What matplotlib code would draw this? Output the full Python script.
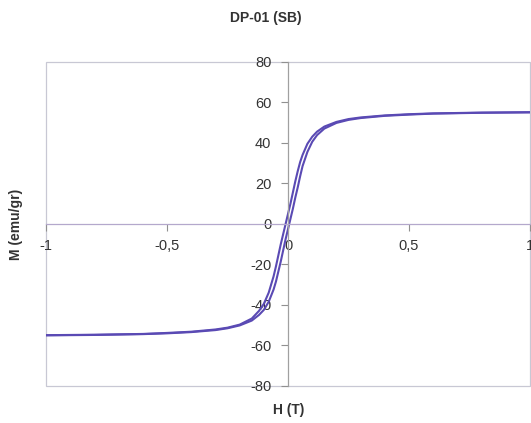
import matplotlib.pyplot as plt
from matplotlib.patches import Rectangle

# Boucle d'hystérésis DP-01 (SB)
H = [-1.0, -0.8, -0.6, -0.5, -0.4, -0.3, -0.25, -0.2, -0.15, -0.12, -0.1, -0.08,
     -0.06, -0.05, -0.04, -0.03, -0.02, -0.01, 0.0, 0.01, 0.02, 0.03, 0.04, 0.05,
     0.06, 0.08, 0.1, 0.12, 0.15, 0.2, 0.25, 0.3, 0.4, 0.5, 0.6, 0.8, 1.0]

# branche descendante (champ de +1 vers -1)
M_down = [-55.0, -54.8, -54.4, -53.9, -53.3, -52.2, -51.3, -49.8, -46.8, -43.0, -39.5, -34.0,
          -26.0, -21.0, -15.5, -10.0, -5.0, 0.0, 5.0, 10.0, 15.5, 21.0, 26.0, 30.5,
          34.0, 39.5, 43.0, 45.5, 48.0, 50.3, 51.7, 52.5, 53.5, 54.1, 54.5, 54.9, 55.1]

# branche montante (champ de -1 vers +1)
M_up = [-55.1, -54.9, -54.5, -54.1, -53.5, -52.5, -51.6, -50.2, -47.8, -45.0, -42.5, -38.5,
        -32.5, -28.5, -23.5, -18.5, -13.0, -7.5, -2.5, 2.5, 7.5, 13.0, 18.0, 23.5,
        28.5, 35.5, 40.5, 43.8, 47.0, 49.8, 51.3, 52.2, 53.3, 53.9, 54.4, 54.8, 55.0]

x_ticks = [-1, -0.5, 0, 0.5, 1]
x_labels = ['-1', '-0,5', '0', '0,5', '1']
y_ticks = [-80, -60, -40, -20, 0, 20, 40, 60, 80]

plt.rcParams['font.family'] = ['Liberation Sans', 'DejaVu Sans']
plt.rcParams['axes.unicode_minus'] = False

fig = plt.figure(figsize=(5.31, 4.23), dpi=100)
ax = fig.add_axes([0.087, 0.088, 0.911, 0.766])

col = '#5a4ab4'
ax.plot(H[::-1], M_down[::-1], color=col, lw=1.5)
ax.plot(H, M_up, color=col, lw=1.5)

ax.set_xlim(-1, 1)
ax.set_ylim(-80, 80)

# axes croisés en zéro
for s in ['top', 'right']:
    ax.spines[s].set_visible(False)
ax.spines['left'].set_position('zero')
ax.spines['bottom'].set_position('zero')
ax.spines['left'].set_color('#a0a0a0')
ax.spines['bottom'].set_color('#b4a8cc')
ax.spines['left'].set_linewidth(0.9)
ax.spines['bottom'].set_linewidth(0.9)

ax.add_patch(Rectangle((0, 0), 1, 1, transform=ax.transAxes, fill=False,
                       edgecolor='#c8c8d4', lw=0.9, clip_on=False))

ax.set_xticks(x_ticks)
ax.set_xticklabels(x_labels)
ax.set_yticks(y_ticks)
ax.tick_params(axis='both', direction='out', length=5, color='#909090',
               labelsize=10.5, labelcolor='#333333')
ax.tick_params(axis='x', pad=6)
ax.tick_params(axis='y', pad=7)

fig.suptitle('DP-01 (SB)', y=0.975, fontsize=10, fontweight='bold', color='#333333')
fig.text(0.03, 0.47, 'M (emu/gr)', rotation=90, ha='center', va='center',
         fontsize=10, fontweight='bold', color='#333333')
fig.text(0.543, 0.03, 'H (T)', ha='center', va='center',
         fontsize=10, fontweight='bold', color='#333333')

fig.savefig('out.png', dpi=100)
